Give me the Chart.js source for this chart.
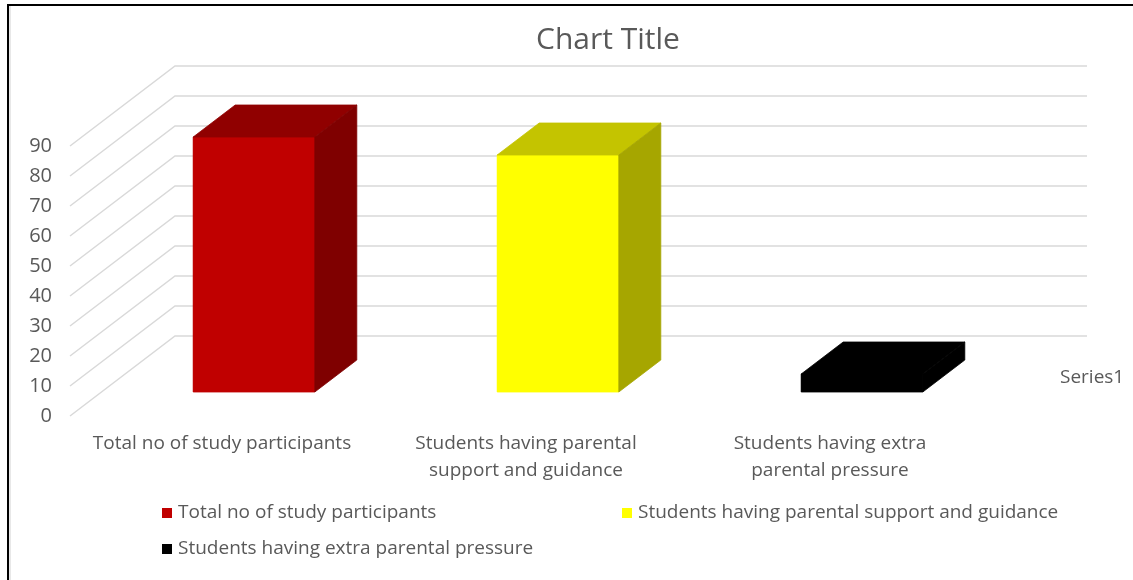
<!DOCTYPE html>
<html>
<head>
<meta charset="utf-8">
<script src="https://cdn.jsdelivr.net/npm/chart.js@4.4.1/dist/chart.umd.min.js"></script>
<style>
  html, body { margin: 0; padding: 0; background: #fff; overflow: hidden; width: 1133px; height: 580px; }
  #frame { position: absolute; left: 7px; top: 4px; width: 1198px; height: 574px;
           border-left: 2px solid #000; border-top: 2px solid #000; box-shadow: inset 2px 0 0 #e8e8e8; }
  canvas { display: block; }
</style>
</head>
<body>
<div id="frame"><canvas id="chart" width="1198" height="574"></canvas></div>
<script>
// data
var categories = ['Total no of study participants', 'Students having parental support and guidance', 'Students having extra parental pressure'];
var tickLabels = [['Total no of study participants'], ['Students having parental', 'support and guidance'], ['Students having extra', 'parental pressure']];
var values = [85, 79, 6];
var seriesName = 'Series1';
var yMax = 90;
var yStep = 10;

// colours of the 3d faces
var frontColors = ['#c00000', '#ffff00', '#000000'];
var topColors = ['#900000', '#c4c400', '#000000'];
var sideColors = ['#7f0000', '#a6a600', '#000000'];

var textColor = '#595959';
Chart.defaults.font.family = "'Open Sans', sans-serif";
Chart.defaults.color = textColor;

// depth of the 3d box (oblique projection)
var depthX = 105, depthY = -80;
var barFront = 0.3, barBack = 0.7;

function face(ctx, pts, color) {
    ctx.fillStyle = color;
    ctx.strokeStyle = color;
    ctx.beginPath();
    ctx.moveTo(pts[0][0], pts[0][1]);
    for (var k = 1; k < pts.length; k++) ctx.lineTo(pts[k][0], pts[k][1]);
    ctx.closePath();
    ctx.fill();
    ctx.stroke();
}

var plot3d = {
    id: 'plot3d',
    beforeDatasetsDraw: function(chart) {
        var ctx = chart.ctx;
        var area = chart.chartArea;
        var yScale = chart.scales.y;
        // gridlines: side wall + back wall
        ctx.save();
        ctx.strokeStyle = '#d9d9d9';
        ctx.lineWidth = 1.5;
        yScale.ticks.forEach(function(t) {
            var y = yScale.getPixelForValue(t.value);
            ctx.beginPath();
            ctx.moveTo(area.left, y);
            ctx.lineTo(area.left + depthX, y + depthY);
            ctx.lineTo(area.right + depthX, y + depthY);
            ctx.stroke();
        });
        ctx.restore();
        // push the front faces of the bars into the box
        ctx.save();
        ctx.translate(Math.round(depthX * barFront), Math.round(depthY * barFront));
    },
    afterDatasetsDraw: function(chart) {
        var ctx = chart.ctx;
        ctx.restore();
        var meta = chart.getDatasetMeta(0);
        var dx = Math.round(depthX * barFront), dy = Math.round(depthY * barFront);
        var bx = depthX * (barBack - barFront), by = depthY * (barBack - barFront);
        ctx.save();
        ctx.lineWidth = 0.8;
        meta.data.forEach(function(bar, i) {
            var p = bar.getProps(['x', 'y', 'base', 'width'], true);
            var l = p.x - p.width / 2 + dx, r = p.x + p.width / 2 + dx;
            var t = p.y + dy, b = p.base + dy;
            face(ctx, [[l, t], [r, t], [r, b], [l, b]], frontColors[i]);
            face(ctx, [[l, t], [r, t], [r + bx, t + by], [l + bx, t + by]], topColors[i]);
            face(ctx, [[r, t], [r + bx, t + by], [r + bx, b + by], [r, b]], sideColors[i]);
        });
        ctx.restore();
    },
    afterDraw: function(chart) {
        var ctx = chart.ctx;
        var area = chart.chartArea;
        ctx.save();
        ctx.font = "19px 'Open Sans', sans-serif";
        ctx.fillStyle = textColor;
        ctx.textBaseline = 'middle';
        ctx.textAlign = 'left';
        // series (depth) axis label
        ctx.fillText(seriesName, area.right + 78, area.bottom - 38);
        // legend, two columns
        var colX = [153, 613];
        var rowY = [507, 543];
        categories.forEach(function(name, i) {
            var x = colX[i % 2], y = rowY[Math.floor(i / 2)];
            ctx.fillStyle = frontColors[i];
            ctx.fillRect(x, y - 5, 10, 10);
            ctx.fillStyle = textColor;
            ctx.fillText(name, x + 16, y);
        });
        ctx.restore();
    }
};

new Chart(document.getElementById('chart'), {
    type: 'bar',
    data: {
        labels: tickLabels,
        datasets: [{
            label: seriesName,
            data: values,
            backgroundColor: frontColors,
            borderWidth: 0,
            categoryPercentage: 1,
            barPercentage: 0.4,
            clip: false
        }]
    },
    options: {
        responsive: false,
        animation: false,
        events: [],
        layout: { padding: 0 },
        plugins: {
            legend: { display: false },
            tooltip: { enabled: false },
            title: {
                display: true,
                text: 'Chart Title',
                color: textColor,
                font: { size: 30, weight: 'normal' },
                padding: { top: 16, bottom: 88 }
            }
        },
        scales: {
            x: {
                grid: { display: false, drawTicks: false },
                border: { display: false },
                ticks: { padding: 14, font: { size: 19, lineHeight: 1.42 }, color: textColor, maxRotation: 0 },
                afterFit: function(s) { s.height = 164; }
            },
            y: {
                min: 0,
                max: yMax,
                grid: { display: false, drawTicks: false },
                border: { display: false },
                ticks: { stepSize: yStep, padding: 18, font: { size: 20 }, color: textColor },
                afterFit: function(s) { s.width = 61; }
            },
            yRight: {
                type: 'linear',
                position: 'right',
                grid: { display: false, drawTicks: false },
                border: { display: false },
                ticks: { display: false },
                afterFit: function(s) { s.width = 225; }
            }
        }
    },
    plugins: [plot3d]
});
</script>
</body>
</html>
